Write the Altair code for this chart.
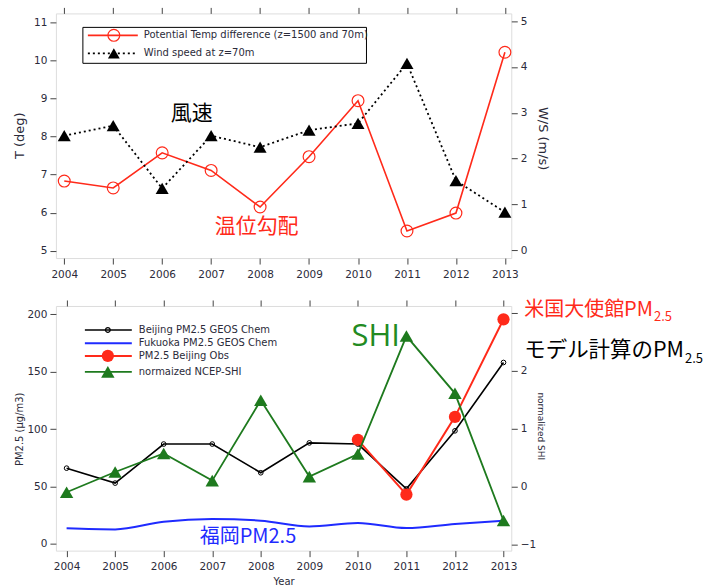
import altair as alt
import pandas as pd

# ---------------- data ----------------
years = [2004, 2005, 2006, 2007, 2008, 2009, 2010, 2011, 2012, 2013]
temp_diff = [6.83, 6.65, 7.57, 7.11, 6.15, 7.47, 8.94, 5.52, 5.99, 10.21]
wind_speed = [2.50, 2.72, 1.35, 2.50, 2.25, 2.62, 2.77, 4.08, 1.52, 0.83]

beijing_geos = [66, 53, 87, 87, 62, 88, 87, 48, 98.5, 158]
fukuoka_geos = [13.6, 12.7, 19.4, 21.7, 20.3, 15.3, 18.3, 13.9, 17.4, 20.3]
obs_years = [2010, 2011, 2012, 2013]
beijing_obs = [90.7, 43, 110.7, 195.6]
shi = [-0.10, 0.25, 0.57, 0.10, 1.49, 0.17, 0.56, 2.60, 1.61, -0.59]

top_legend = ["Potential Temp difference (z=1500 and 70m)", "Wind speed at z=70m"]
bot_legend = ["Beijing PM2.5 GEOS Chem", "Fukuoka PM2.5 GEOS Chem",
              "PM2.5 Beijing Obs", "normaized NCEP-SHI"]

top_df = pd.DataFrame({"year": years, "T": temp_diff, "WS": wind_speed})
bot_df = pd.DataFrame({"year": years, "geos": beijing_geos, "fuku": fukuoka_geos, "shi": shi})
obs_df = pd.DataFrame({"year": obs_years, "obs": beijing_obs})
one = pd.DataFrame({"k": [0]})

RED = "#ff2a1a"
BLUE = "#1f2bff"
GREEN = "#1e7a1e"
TXT = "#2b2b3a"
FONT = "DejaVu Sans"
CJK = "Noto Sans CJK JP"

W, H = 456, 245

def xaxis(orient, labels=True, title=None):
    kw = dict(orient=orient, values=years, format="d", labels=labels, ticks=True,
              tickSize=6, tickColor="#444", domain=False, grid=False,
              labelFont=FONT, labelFontSize=10.5, labelColor=TXT, labelPadding=5)
    if title:
        kw.update(title=title, titleFont=FONT, titleFontSize=10, titleFontWeight="normal",
                  titleColor=TXT, titlePadding=4)
    else:
        kw.update(title=None)
    return alt.Axis(**kw)

def yaxis(orient, values, title, tfs, tx, ty, hide=None):
    kw = dict(orient=orient, values=values, title=title, tickSize=6, tickColor="#444",
              domain=False, grid=False, labelFont=FONT, labelFontSize=10.5,
              labelColor=TXT, labelPadding=3, titleFont=FONT, titleFontSize=tfs,
              titleFontWeight="normal", titleColor=TXT, titleX=tx, titleY=ty,
              titleAlign="center", titleBaseline="middle")
    if hide is not None:
        kw["labelExpr"] = f"datum.value == {hide} ? '' : datum.label"
    return alt.Axis(**kw)

def txt(text, x, y, color, size, font=CJK, align="left", weight="normal"):
    return alt.Chart(one).mark_text(text=text, color=color, fontSize=size, font=font,
                                    align=align, baseline="middle", fontWeight=weight).encode(
        x=alt.value(x), y=alt.value(y))

def hline(x1, x2, y, color, width=1.5, dash=None):
    kw = dict(color=color, strokeWidth=width)
    if dash:
        kw["strokeDash"] = dash
    return alt.Chart(one).mark_rule(**kw).encode(x=alt.value(x1), x2=alt.value(x2), y=alt.value(y))

def pt(x, y, shape, size, color, filled):
    return alt.Chart(one).mark_point(shape=shape, size=size, color=color, filled=filled,
                                     opacity=1, strokeWidth=1.2).encode(x=alt.value(x), y=alt.value(y))

# ---------------- top panel ----------------
xs_top = alt.Scale(domain=[2003.83, 2013.13], nice=False, zero=False)
ys_T = alt.Scale(domain=[4.81, 11.23], nice=False, zero=False)
ys_WS = alt.Scale(domain=[-0.17, 5.17], nice=False, zero=False)

t_base = alt.Chart(top_df).encode(
    x=alt.X("year:Q", scale=xs_top, axis=xaxis("bottom")),
    y=alt.Y("T:Q", scale=ys_T, axis=yaxis("left", [5, 6, 7, 8, 9, 10, 11], "T (deg)", 13, -36, 122)),
)
t_layer = alt.layer(
    t_base.mark_line(color=RED, strokeWidth=1.6),
    t_base.mark_point(shape="circle", size=140, color=RED, filled=False, strokeWidth=1.2, opacity=1),
)
w_base = alt.Chart(top_df).encode(
    x=alt.X("year:Q", scale=xs_top, axis=xaxis("top", labels=False)),
    y=alt.Y("WS:Q", scale=ys_WS, axis=yaxis("right", [0, 1, 2, 3, 4, 5], "W/S (m/s)", 13, 31, 125)),
)
w_layer = alt.layer(
    w_base.mark_line(color="black", strokeWidth=1.8, strokeDash=[2, 3]),
    w_base.mark_point(shape="triangle-up", size=170, color="black", filled=True, opacity=1),
)
top_extra = alt.layer(
    alt.Chart(one).mark_rect(fill="white", stroke="black", strokeWidth=1).encode(
        x=alt.value(27), x2=alt.value(311), y=alt.value(14), y2=alt.value(50)),
    hline(32, 82, 22, RED, 1.6),
    pt(58, 22, "circle", 140, RED, False),
    txt(top_legend[0], 88, 22, TXT, 10, FONT),
    hline(32, 82, 40, "black", 1.8, [2, 3]),
    pt(58, 40, "triangle-up", 140, "black", True),
    txt(top_legend[1], 88, 40, TXT, 10, FONT),
    txt("風速", 136, 101, "black", 21, align="center"),
    txt("温位勾配", 201, 214, RED, 21, align="center"),
)
top = alt.layer(t_layer, w_layer, top_extra).resolve_scale(
    x="independent", y="independent").resolve_axis(x="independent", y="independent").properties(
    width=W, height=H)

# ---------------- bottom panel ----------------
xs_bot = alt.Scale(domain=[2003.78, 2013.16], nice=False, zero=False)
ys_PM = alt.Scale(domain=[-5.8, 207.2], nice=False, zero=False)
ys_SHI = alt.Scale(domain=[-1.11, 3.12], nice=False, zero=False)

pm_axis = yaxis("left", [0, 50, 100, 150, 200], "PM2.5 (μg/m3)", 10, -36, 123)
bx_axis = xaxis("bottom", title="Year")
g_base = alt.Chart(bot_df).encode(
    x=alt.X("year:Q", scale=xs_bot, axis=bx_axis),
    y=alt.Y("geos:Q", scale=ys_PM, axis=pm_axis),
)
fuku = alt.Chart(bot_df).mark_line(color=BLUE, strokeWidth=2, interpolate="monotone").encode(
    x=alt.X("year:Q", scale=xs_bot, axis=bx_axis),
    y=alt.Y("fuku:Q", scale=ys_PM, axis=pm_axis),
)
o_base = alt.Chart(obs_df).encode(
    x=alt.X("year:Q", scale=xs_bot, axis=bx_axis),
    y=alt.Y("obs:Q", scale=ys_PM, axis=pm_axis),
)
pm_layer = alt.layer(
    g_base.mark_line(color="black", strokeWidth=1.6),
    fuku,
    g_base.mark_point(shape="circle", size=22, color="black", filled=False, strokeWidth=1, opacity=1),
    o_base.mark_line(color=RED, strokeWidth=2),
    o_base.mark_point(shape="circle", size=150, color=RED, filled=True, opacity=1),
)
s_base = alt.Chart(bot_df).encode(
    x=alt.X("year:Q", scale=xs_bot, axis=xaxis("top", labels=False)),
    y=alt.Y("shi:Q", scale=ys_SHI,
            axis=yaxis("right", [-1, 0, 1, 2, 3], "normalized SHI", 9, 29, 120, hide=3)),
)
s_layer = alt.layer(
    s_base.mark_line(color=GREEN, strokeWidth=1.8),
    s_base.mark_point(shape="triangle-up", size=180, color=GREEN, filled=True, opacity=1),
)
rows = [24, 37.3, 50, 66]
bot_extra = alt.layer(
    hline(29, 76, rows[0], "black", 1.6),
    pt(52, rows[0], "circle", 22, "black", False),
    txt(bot_legend[0], 83, rows[0], TXT, 10, FONT),
    hline(29, 76, rows[1], BLUE, 2),
    txt(bot_legend[1], 83, rows[1], TXT, 10, FONT),
    hline(29, 76, rows[2], RED, 2),
    pt(52, rows[2], "circle", 150, RED, True),
    txt(bot_legend[2], 83, rows[2], TXT, 10, FONT),
    hline(29, 76, rows[3], GREEN, 1.8),
    pt(52, rows[3], "triangle-up", 180, GREEN, True),
    txt(bot_legend[3], 83, rows[3], TXT, 10, FONT),
    txt("SHI", 296, 31, "#228b22", 31, "Open Sans"),
    txt("福岡PM2.5", 144, 231, BLUE, 20),
    txt("米国大使館PM", 469, 4, RED, 20),
    txt("2.5", 599, 11, RED, 13),
    txt("モデル計算のPM", 469, 45, "black", 21.5),
    txt("2.5", 630, 53, "black", 13),
)
bottom = alt.layer(pm_layer, s_layer, bot_extra).resolve_scale(
    x="independent", y="independent").resolve_axis(x="independent", y="independent").properties(
    width=W, height=H)

chart = alt.vconcat(top, bottom, spacing=48, bounds="flush").properties(
    padding={"left": 13, "top": 6, "right": 0, "bottom": 0}
).configure_view(stroke="#444", strokeWidth=1.2).configure(background="white")

chart.save("out.html", embed_options={"renderer": "svg", "actions": False})
